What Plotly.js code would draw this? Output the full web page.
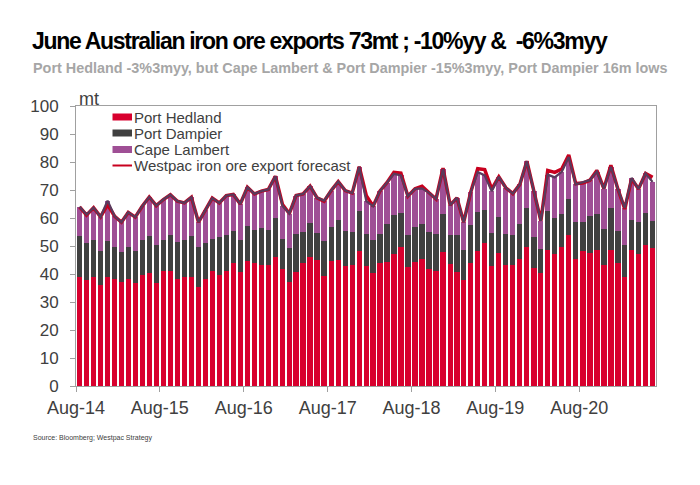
<!DOCTYPE html>
<html>
<head>
<meta charset="utf-8">
<script src="https://cdn.plot.ly/plotly-3.0.1.min.js"></script>
<style>html,body{margin:0;padding:0;background:#fff;}#chart{width:700px;height:485px;}</style>
</head>
<body>
<div id="chart"></div>
<script>
// Months (categories)
const months = [
 "2014-08","2014-09","2014-10","2014-11","2014-12",
 "2015-01","2015-02","2015-03","2015-04","2015-05","2015-06","2015-07","2015-08","2015-09","2015-10","2015-11","2015-12",
 "2016-01","2016-02","2016-03","2016-04","2016-05","2016-06","2016-07","2016-08","2016-09","2016-10","2016-11","2016-12",
 "2017-01","2017-02","2017-03","2017-04","2017-05","2017-06","2017-07","2017-08","2017-09","2017-10","2017-11","2017-12",
 "2018-01","2018-02","2018-03","2018-04","2018-05","2018-06","2018-07","2018-08","2018-09","2018-10","2018-11","2018-12",
 "2019-01","2019-02","2019-03","2019-04","2019-05","2019-06","2019-07","2019-08","2019-09","2019-10","2019-11","2019-12",
 "2020-01","2020-02","2020-03","2020-04","2020-05","2020-06","2020-07","2020-08","2020-09","2020-10","2020-11","2020-12",
 "2021-01","2021-02","2021-03","2021-04","2021-05","2021-06"
];

// Series values (mt)
const portHedland = [
 38.9,37.9,39.0,35.9,38.8,
 38.3,37.2,38.2,36.8,39.6,40.2,36.8,40.9,41.2,38.2,39.1,39.1,
 35.3,38.3,41.2,39.5,41.2,43.9,40.6,44.7,43.9,43.3,43.1,45.9,
 41.9,37.2,40.8,44.0,46.1,44.9,39.4,44.5,45.1,42.7,43.1,48.1,
 43.0,40.3,43.9,44.3,47.0,49.5,42.4,44.3,45.3,41.8,40.9,47.9,
 43.7,40.8,37.9,43.8,48.2,51.1,42.7,47.5,43.1,43.3,45.2,49.5,
 42.2,40.5,48.7,47.3,49.8,54.1,45.5,48.1,47.5,48.6,43.3,48.6,
 44.0,38.9,48.7,47.1,50.2,49.3
];
const portDampier = [
 14.8,13.2,13.3,12.2,12.9,
 11.2,10.5,11.6,11.3,12.7,13.3,13.7,11.4,12.9,13.2,12.9,14.4,
 14.2,12.8,11.4,13.6,12.6,11.6,11.4,12.6,11.7,13.1,12.7,14.0,
 10.5,12.0,13.5,11.1,12.1,9.8,12.3,12.2,14.1,12.8,11.9,14.3,
 11.4,12.0,10.5,13.6,14.0,12.4,11.7,12.4,12.7,13.1,13.5,13.7,
 10.1,13.0,10.8,13.7,14.1,11.7,12.0,13.0,11.1,10.5,12.7,14.0,
 11.1,8.5,13.7,12.7,11.8,12.8,13.0,10.6,13.1,12.9,12.8,14.9,
 11.5,11.6,10.7,11.4,11.6,9.5
];
const capeLambert = [
 10.3,10.1,11.4,12.3,14.5,
 11.1,10.8,12.2,12.2,11.9,14.0,13.9,14.3,14.2,14.6,13.4,13.9,
 9.0,11.7,14.5,12.3,14.2,12.9,13.0,13.7,13.0,13.2,14.4,15.0,
 12.0,12.4,13.7,13.5,13.2,12.5,14.5,13.1,13.8,14.3,13.9,15.9,
 11.6,11.9,15.2,14.7,14.8,13.3,13.7,13.7,12.6,14.1,12.4,15.9,
 10.8,13.4,9.8,11.7,14.1,12.4,14.9,14.2,16.6,14.9,14.1,16.8,
 16.2,10.0,13.1,14.5,14.9,14.9,13.5,14.1,12.9,15.1,14.4,14.8,
 14.7,13.1,14.9,11.9,14.1,14.1
];
const westpacForecast = [
 64.0,61.0,63.7,60.4,64.8,
 60.6,58.5,62.0,60.3,64.2,67.5,64.4,66.6,68.3,66.0,65.4,67.4,
 58.5,62.8,67.1,65.4,68.0,68.4,65.0,71.0,68.6,69.6,70.2,74.9,
 64.8,61.6,68.0,68.6,71.4,67.2,66.0,69.8,73.0,69.8,68.9,78.3,
 68.0,64.2,69.6,72.6,76.3,76.0,67.8,70.4,71.3,69.0,66.8,77.8,
 64.6,67.2,58.5,69.2,77.6,77.3,70.3,74.7,70.8,68.7,72.0,80.3,
 69.5,59.0,77.0,76.3,77.5,82.5,72.3,72.5,73.5,77.0,70.5,78.8,
 70.2,63.2,74.0,70.4,75.9,74.5
];

// Tick labels
const tickDates = ["2014-08-01","2015-08-01","2016-08-01","2017-08-01","2018-08-01","2019-08-01","2020-08-01"];
const tickLabels = ["Aug-14","Aug-15","Aug-16","Aug-17","Aug-18","Aug-19","Aug-20"];
const yTicks = [0,10,20,30,40,50,60,70,80,90,100];

// Legend entries
const legendNames = ["Port Hedland","Port Dampier","Cape Lambert","Westpac iron ore export forecast"];

const total = portHedland.map((v, i) => +(v + portDampier[i] + capeLambert[i]).toFixed(1));

const COLORS = {ph: "#d8002e", pd: "#404040", cl: "#9f4f95", fc: "#c8001e", tot: "#5a3a5c"};
const DAY = 86400000;
const barW = 23 * DAY;
const txt = "#404040";

// plot area in pixels
const PL = 76, PR = 656, PT = 106, PB = 386;
const px = x => (x - PL) / (PR - PL);
const py = y => (PB - y) / (PB - PT);

const barCommon = {
  type: "bar", x: months, xperiod: "M1", xperiodalignment: "middle",
  width: barW, hoverinfo: "skip", showlegend: false
};

const traces = [
  Object.assign({}, barCommon, {name: legendNames[0], y: portHedland, marker: {color: COLORS.ph}}),
  Object.assign({}, barCommon, {name: legendNames[1], y: portDampier, marker: {color: COLORS.pd}}),
  Object.assign({}, barCommon, {name: legendNames[2], y: capeLambert, marker: {color: COLORS.cl}}),
  {type: "scatter", mode: "lines", name: legendNames[3], x: months, y: westpacForecast, showlegend: false,
   xperiod: "M1", xperiodalignment: "middle", line: {color: COLORS.fc, width: 3.5}},
  {type: "scatter", mode: "lines", name: "Total", showlegend: false, x: months, y: total,
   xperiod: "M1", xperiodalignment: "middle", line: {color: COLORS.tot, width: 2.3}}
];

// manual legend (tight row spacing like the reference)
const rowY = [117, 133, 149.5, 165.5];
const swatchColors = [COLORS.ph, COLORS.pd, COLORS.cl];
const shapes = [];
const annotations = [];
for (let i = 0; i < 3; i++) {
  shapes.push({type: "rect", xref: "paper", yref: "paper",
    x0: px(112.5), x1: px(132), y0: py(rowY[i] - 3.5), y1: py(rowY[i] + 3.5),
    fillcolor: swatchColors[i], line: {width: 0}});
}
shapes.push({type: "line", xref: "paper", yref: "paper",
  x0: px(112.5), x1: px(132), y0: py(rowY[3]), y1: py(rowY[3]),
  line: {color: COLORS.fc, width: 2}});
for (let i = 0; i < 4; i++) {
  annotations.push({text: legendNames[i], xref: "paper", yref: "paper",
    x: px(132), y: py(rowY[i]), xanchor: "left", yanchor: "middle",
    showarrow: false, font: {size: 15, color: txt}});
}
annotations.push(
  {text: "mt", xref: "paper", yref: "paper", x: px(77), y: py(99), xanchor: "left", yanchor: "middle",
   showarrow: false, font: {size: 18, color: txt}},
  {text: "Port Hedland -3%3myy, but Cape Lambert & Port Dampier -15%3myy, Port Dampier 16m lows",
   xref: "paper", yref: "paper", x: px(31), y: py(68), xanchor: "left", yanchor: "middle",
   showarrow: false, font: {size: 14.4, color: "#a6a6a6", weight: "bold"}},
  {text: "Source: Bloomberg; Westpac Strategy", xref: "paper", yref: "paper",
   x: px(31), y: py(438), xanchor: "left", yanchor: "middle",
   showarrow: false, font: {size: 7, color: txt}}
);

const layout = {
  width: 700, height: 485,
  margin: {l: PL, r: 700 - PR, t: PT, b: 485 - PB},
  paper_bgcolor: "#ffffff", plot_bgcolor: "#ffffff",
  font: {family: "Liberation Sans, Arial, sans-serif", color: txt},
  barmode: "stack", bargap: 0,
  showlegend: false,
  title: {
    text: '<span style="letter-spacing:-1.3px">June Australian iron ore exports 73mt ; -10%yy &  -6%3myy</span>',
    font: {family: "Liberation Sans, Arial", size: 23, color: "#000000", weight: "bold"},
    x: 32/700, xanchor: "left", xref: "container",
    y: 1 - 41/485, yanchor: "middle", yref: "container"
  },
  xaxis: {
    type: "date",
    range: ["2014-08-01", "2021-07-01"],
    tickmode: "array", tickvals: tickDates, ticktext: tickLabels,
    ticks: "outside", ticklen: 5, tickcolor: "#a0a0a0", tickwidth: 1,
    tickfont: {size: 18, color: txt},
    showline: true, linecolor: "#a0a0a0", linewidth: 1, mirror: true,
    showgrid: false, zeroline: false, fixedrange: true
  },
  yaxis: {
    range: [0, 100], tickmode: "array", tickvals: yTicks,
    ticks: "outside", ticklen: 5, tickcolor: "#a0a0a0", tickwidth: 1,
    ticklabelstandoff: 8,
    tickfont: {size: 17, color: txt},
    showline: true, linecolor: "#a0a0a0", linewidth: 1, mirror: true,
    showgrid: false, zeroline: false, fixedrange: true
  },
  shapes: shapes,
  annotations: annotations
};

Plotly.newPlot("chart", traces, layout, {displayModeBar: false, staticPlot: true});
</script>
</body>
</html>
